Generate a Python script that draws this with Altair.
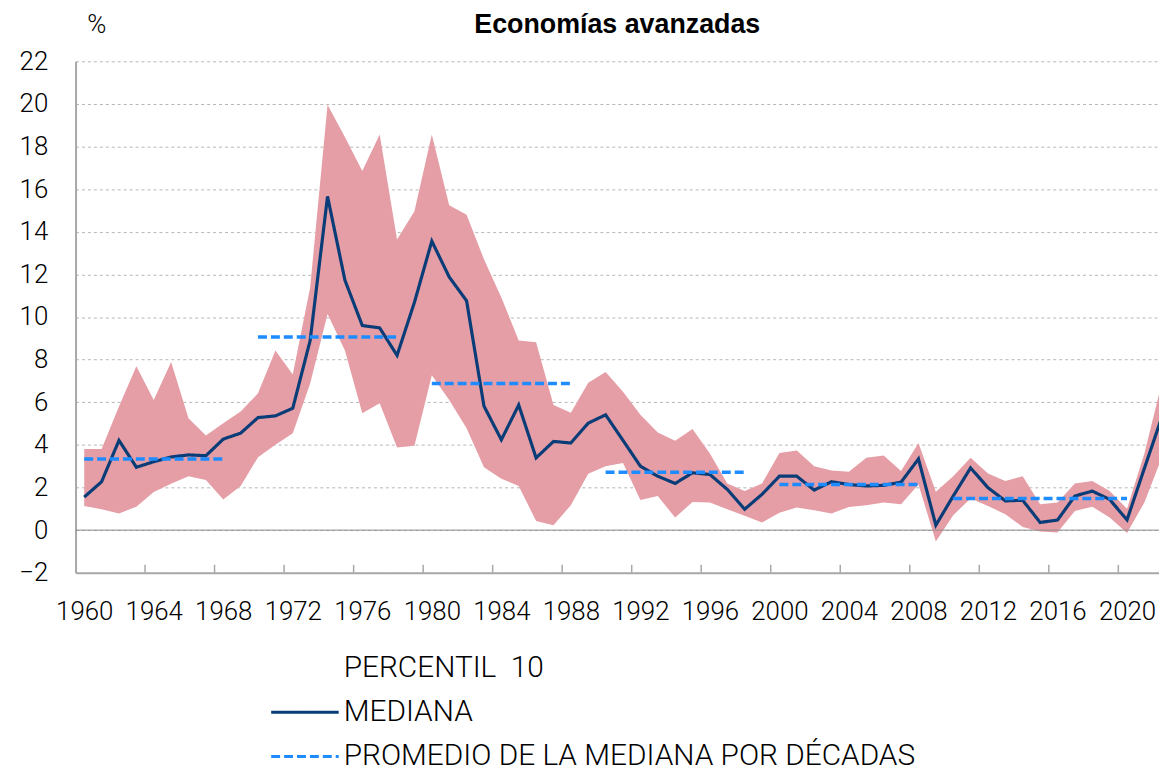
import altair as alt
import pandas as pd

years = list(range(1960, 2023))
mediana = [1.55, 2.27, 4.21, 2.95, 3.21, 3.43, 3.53, 3.49, 4.27, 4.55,
           5.28, 5.36, 5.72, 8.90, 15.66, 11.73, 9.60, 9.49, 8.20, 10.69,
           13.56, 11.88, 10.76, 5.82, 4.24, 5.87, 3.39, 4.16, 4.09, 5.02,
           5.41, 4.21, 3.00, 2.53, 2.19, 2.69, 2.61, 1.91, 0.98, 1.68,
           2.53, 2.53, 1.88, 2.27, 2.14, 2.07, 2.10, 2.25, 3.34, 0.23,
           1.60, 2.92, 1.99, 1.37, 1.40, 0.36, 0.47, 1.60, 1.83, 1.44,
           0.48, 2.90, 5.30]
p90 = [3.81, 3.81, 5.80, 7.69, 6.10, 7.89, 5.25, 4.44, 5.02, 5.56,
       6.42, 8.43, 7.30, 11.39, 19.96, 18.45, 16.85, 18.56, 13.64, 14.96,
       18.56, 15.24, 14.80, 12.71, 10.92, 8.90, 8.82, 5.87, 5.51, 6.91,
       7.42, 6.49, 5.41, 4.58, 4.19, 4.74, 3.60, 2.19, 1.83, 2.19,
       3.62, 3.73, 3.00, 2.80, 2.74, 3.39, 3.50, 2.77, 4.09, 1.80,
       2.53, 3.39, 2.66, 2.30, 2.53, 1.21, 1.29, 2.19, 2.30, 1.83,
       1.00, 3.60, 6.90]
p10 = [1.13, 0.98, 0.78, 1.10, 1.79, 2.18, 2.53, 2.35, 1.44, 2.07,
       3.42, 4.01, 4.55, 6.88, 10.14, 8.43, 5.48, 5.95, 3.88, 3.96,
       7.27, 6.10, 4.78, 2.95, 2.41, 2.07, 0.43, 0.23, 1.17, 2.64,
       3.00, 3.15, 1.41, 1.60, 0.59, 1.32, 1.29, 0.98, 0.67, 0.36,
       0.82, 1.06, 0.93, 0.78, 1.09, 1.17, 1.29, 1.21, 2.14, -0.53,
       0.70, 1.48, 1.13, 0.75, 0.15, -0.06, -0.11, 0.90, 1.10, 0.59,
       -0.14, 1.30, 3.40]

decade_start = [1960, 1970, 1980, 1990, 2000, 2010]
decade_end = [1968, 1978, 1988, 1998, 2008, 2020]
decade_avg = [3.34, 9.06, 6.88, 2.72, 2.14, 1.48]

x_labels = [1960, 1964, 1968, 1972, 1976, 1980, 1984, 1988, 1992, 1996,
            2000, 2004, 2008, 2012, 2016, 2020]
y_labels = [-2, 0, 2, 4, 6, 8, 10, 12, 14, 16, 18, 20, 22]
tick_years = [1963.5, 1967.5, 1971.5, 1975.5, 1979.5, 1983.5, 1987.5, 1991.5,
              1995.5, 1999.5, 2003.5, 2007.5, 2011.5, 2015.5, 2019.5]

S_P10 = "PERCENTIL\u00a0 10"
S_MED = "MEDIANA"
S_AVG = "PROMEDIO DE LA MEDIANA POR DÉCADAS"
series_names = [S_P10, S_MED, S_AVG]

PINK = "#e59ea6"
NAVY = "#0a3d78"
LBLUE = "#1e8cff"
FONT = "Roboto"

W, H = 1091, 515

df_band = pd.DataFrame({"year": years, "p10": p10, "p90": p90})
df_med = pd.DataFrame({"year": years, "value": mediana, "serie": S_MED})
rows = []
for s, e, v in zip(decade_start, decade_end, decade_avg):
    rows.append({"year": s, "value": v, "grp": str(s), "serie": S_AVG})
    rows.append({"year": e, "value": v, "grp": str(s), "serie": S_AVG})
df_dec = pd.DataFrame(rows)
df_zero = pd.DataFrame({"z": [0]})
df_ticks = pd.DataFrame({"t": tick_years})

xscale = alt.Scale(domain=[1959.5, 2021.84], nice=False, zero=False)
yscale = alt.Scale(domain=[-2, 22], nice=False, zero=False)

x_axis = alt.Axis(values=x_labels, format="d", title=None, grid=False,
                  ticks=False, tickSize=0, labelPadding=26, labelFlush=False,
                  labelOverlap=False, domainColor="#a8a8a8", domainWidth=2,
                  labelFontSize=26, labelFont=FONT, labelFontWeight=300,
                  labelColor="#000")
y_axis = alt.Axis(values=y_labels, title="%", titleAngle=0, titleX=21, titleY=-37,
                  titleAlign="center", titleBaseline="middle", titleFontSize=26,
                  titleFont=FONT, titleFontWeight=300, titleColor="#000",
                  grid=True, gridDash=[3, 3], gridColor="#b5b5b5", gridWidth=1,
                  ticks=False, tickSize=0, labelPadding=28,
                  domainColor="#a8a8a8", domainWidth=2,
                  labelFontSize=26, labelFont=FONT, labelFontWeight=300,
                  labelColor="#000")

X = alt.X("year:Q", scale=xscale, axis=x_axis)

legend = alt.Legend(title=None, orient="none", legendX=216, legendY=596,
                    symbolType="M-4,0H4", symbolSize=289, symbolStrokeWidth=3,
                    labelFontSize=30, labelFont=FONT, labelFontWeight=300,
                    labelColor="#000", labelOffset=24, rowPadding=14.5, padding=0,
                    labelLimit=0)
color = alt.Color("serie:N", scale=alt.Scale(domain=series_names,
                                             range=["#ffffff", NAVY, LBLUE]),
                  legend=legend)
dash = alt.StrokeDash("serie:N", scale=alt.Scale(domain=series_names,
                                                 range=[[1, 0], [1, 0], [9, 4]]),
                      legend=legend)

band = alt.Chart(df_band).mark_area(color=PINK, clip=True).encode(
    x=X,
    y=alt.Y("p10:Q", scale=yscale, axis=y_axis),
    y2="p90:Q",
)

zero = alt.Chart(df_zero).mark_rule(color="#8a8a8a", strokeWidth=1).encode(
    y=alt.Y("z:Q", scale=yscale)
)

ticks = alt.Chart(df_ticks).mark_rule(color="#a8a8a8", strokeWidth=1.5).encode(
    x=alt.X("t:Q", scale=xscale),
    y=alt.value(H),
    y2=alt.value(H - 8),
)

med_line = alt.Chart(df_med).mark_line(strokeWidth=3.2, clip=True).encode(
    x=X,
    y=alt.Y("value:Q", scale=yscale),
    color=color,
    strokeDash=dash,
)

dec_line = alt.Chart(df_dec).mark_line(strokeWidth=3.5, clip=True).encode(
    x=X,
    y=alt.Y("value:Q", scale=yscale),
    detail="grp:N",
    color=color,
    strokeDash=dash,
)

chart = alt.layer(band, zero, ticks, med_line, dec_line).properties(
    width=W,
    height=H,
    title=alt.TitleParams("Economías avanzadas", font="Liberation Sans",
                          fontSize=27, fontWeight="bold", anchor="middle",
                          frame="group", offset=-28, color="#000"),
    autosize=alt.AutoSizeParams(type="none"),
    padding={"left": 68, "top": 51, "right": 0, "bottom": 198},
).configure_view(stroke=None)

chart.save("out.html", embed_options={"renderer": "svg", "actions": False})
